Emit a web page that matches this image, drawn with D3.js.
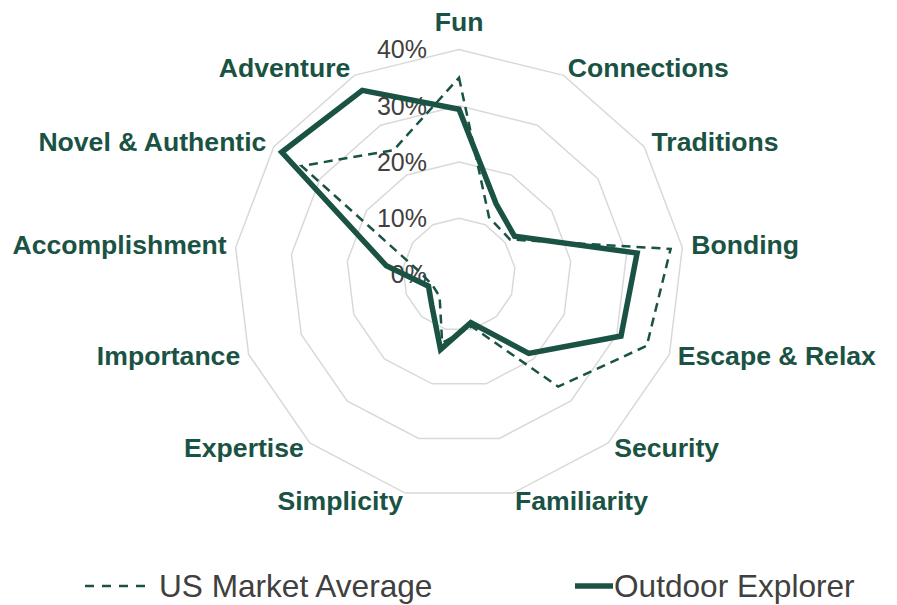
<!DOCTYPE html>
<html>
<head>
<meta charset="utf-8">
<script src="https://cdn.jsdelivr.net/npm/d3@7"></script>
<style>
  body { margin: 0; background: #fff; }
  svg { display: block; font-family: "Liberation Sans", Arial, sans-serif; }
</style>
</head>
<body>
<svg id="chart" width="897" height="605"></svg>
<script>
// categories, clockwise from the top
const categories = ["Fun", "Connections", "Traditions", "Bonding", "Escape & Relax", "Security",
  "Familiarity", "Simplicity", "Expertise", "Importance", "Accomplishment", "Novel & Authentic", "Adventure"]
const usMarketAverage = [35.0, 11.5, 11.0, 37.9, 35.7, 26.6, 9.5, 12.5, 5.2, 5.1, 7.5, 34.0, 25.0]
const outdoorExplorer = [29.4, 14.2, 12.0, 31.9, 30.8, 18.7, 8.8, 13.7, 7.3, 5.8, 13.0, 38.3, 37.0]
const ticks = [0, 10, 20, 30, 40]

const green = "#1a5344"
const cx = 459, cy = 274.6, R = 225

var svg = d3.select("#chart")
var g = svg.append("g").attr("transform", `translate(${cx},${cy})`)

var r = d3.scaleLinear().domain([0, 40]).range([0, R])
var angle = d3.scaleLinear().domain([0, categories.length]).range([0, 2 * Math.PI])

// grid rings (13-gons)
var ring = d3.lineRadial()
  .angle((d, i) => angle(i))
  .radius(d => r(d))
  .curve(d3.curveLinearClosed)

g.selectAll(".ring")
  .data(ticks.filter(t => t > 0))
  .enter()
  .append("path")
  .attr("class", "ring")
  .attr("d", t => ring(categories.map(() => t)))
  .attr("fill", "none")
  .attr("stroke", "#d9d9d9")
  .attr("stroke-width", 1.5)

// tick labels
g.selectAll(".tick")
  .data(ticks)
  .enter()
  .append("text")
  .attr("x", -32)
  .attr("y", t => -r(t))
  .attr("dy", "0.35em")
  .attr("text-anchor", "end")
  .attr("font-size", 25)
  .attr("fill", "#404040")
  .text(t => t + "%")

// category labels
g.selectAll(".cat")
  .data(categories)
  .enter()
  .append("text")
  .attr("class", "cat")
  .each(function(d, i) {
    let a = angle(i), s = Math.sin(a), c = Math.cos(a)
    let x = (R + 9) * s, y = -(R + 9) * c
    if (c > 0.9) y -= 19
    else if (c < -0.9) y -= 1
    else if (c < 0.5) y -= 2
    d3.select(this)
      .attr("x", x)
      .attr("y", y)
      .attr("dy", "0.35em")
      .attr("text-anchor", s > 0.1 ? "start" : (s < -0.1 ? "end" : "middle"))
  })
  .attr("font-size", 26.6)
  .attr("font-weight", "bold")
  .attr("fill", green)
  .text(d => d)

// series
var line = d3.lineRadial()
  .angle((d, i) => angle(i))
  .radius(d => r(d))
  .curve(d3.curveLinearClosed)

g.append("path")
  .attr("d", line(usMarketAverage))
  .attr("fill", "none")
  .attr("stroke", green)
  .attr("stroke-width", 2.5)
  .attr("stroke-dasharray", "9,6")

g.append("path")
  .attr("d", line(outdoorExplorer))
  .attr("fill", "none")
  .attr("stroke", green)
  .attr("stroke-width", 5.5)
  .attr("stroke-linejoin", "miter")

// legend
var legend = svg.append("g").attr("transform", "translate(0,586)")
legend.append("line")
  .attr("x1", 85).attr("x2", 153).attr("y1", 0).attr("y2", 0)
  .attr("stroke", green).attr("stroke-width", 2.5)
  .attr("stroke-dasharray", "9,8")
legend.append("text")
  .attr("x", 159).attr("dy", "0.35em")
  .attr("font-size", 31.6).attr("fill", "#404040")
  .text("US Market Average")
legend.append("line")
  .attr("x1", 575).attr("x2", 613).attr("y1", 0).attr("y2", 0)
  .attr("stroke", green).attr("stroke-width", 5.5)
legend.append("text")
  .attr("x", 614).attr("dy", "0.35em")
  .attr("font-size", 31.6).attr("fill", "#404040")
  .text("Outdoor Explorer")
</script>
</body>
</html>
